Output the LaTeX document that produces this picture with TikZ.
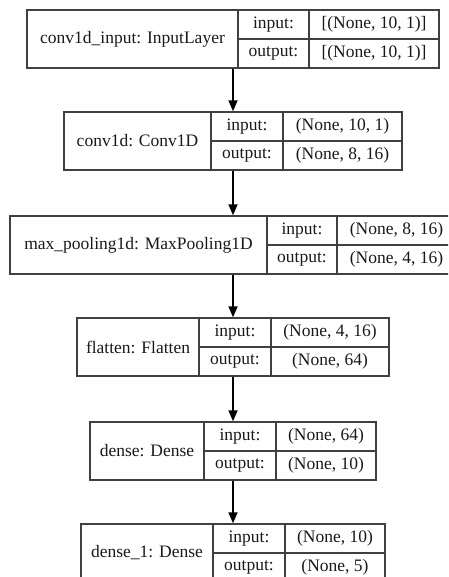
\documentclass[tikz,border=0pt]{standalone}
\usepackage{fontspec}
\setmainfont{Liberation Serif}
\usetikzlibrary{arrows.meta}
\newcommand\layerbox[9]{%
  \node[box, minimum width={#4pt-#3pt}] (#1) at ({(#3+#4)/2},{#2+29}) {};
  \draw[cell] ({#5},{#2}) -- ({#5},{#2+58});
  \draw[cell] ({#6},{#2}) -- ({#6},{#2+58});
  \draw[cell] ({#5},{#2+29}) -- ({#4},{#2+29});
  \node[txt] (#1-lab) at ({(#3+#5)/2},{#2+29}) {#7};
  \node[txt] (#1-ik) at ({(#5+#6)/2},{#2+14.5}) {input:};
  \node[txt] (#1-ok) at ({(#5+#6)/2},{#2+43.5}) {output:};
  \node[txt] (#1-iv) at ({(#6+#4)/2},{#2+14.5}) {#8};
  \node[txt] (#1-ov) at ({(#6+#4)/2},{#2+43.5}) {#9};
}
\begin{document}
\begin{tikzpicture}[x=1pt,y=-1pt,
  box/.style={draw=black!75, line width=1.4pt, minimum height=58pt, inner sep=0pt},
  cell/.style={draw=black!75, line width=1.4pt},
  txt/.style={text=black!90, font=\fontsize{17.5}{20}\selectfont, inner sep=0pt},
  flow/.style={draw=black, line width=1.7pt, -{Triangle[length=11pt,width=9pt]}}]
\useasboundingbox (0,0) rectangle (448,577);
\fill[white] (0,0) rectangle (448,577);
\clip (0,0) rectangle (448,577);
\layerbox{b1}{10}{27}{439}{238}{309}{conv1d\_input: InputLayer}{[(None, 10, 1)]}{[(None, 10, 1)]}
\layerbox{b2}{112}{64}{402}{211}{283}{conv1d: Conv1D}{(None, 10, 1)}{(None, 8, 16)}
\layerbox{b3}{216}{10}{456}{267}{337}{max\_pooling1d: MaxPooling1D}{(None, 8, 16)}{(None, 4, 16)}
\layerbox{b4}{318}{77}{389}{199}{271}{flatten: Flatten}{(None, 4, 16)}{(None, 64)}
\layerbox{b5}{422}{90}{376}{204}{276}{dense: Dense}{(None, 64)}{(None, 10)}
\layerbox{b6}{524}{81}{385}{213}{285}{dense\_1: Dense}{(None, 10)}{(None, 5)}
\draw[flow] (b1.south) -- (b2.north);
\draw[flow] (b2.south) -- (b3.north);
\draw[flow] (b3.south) -- (b4.north);
\draw[flow] (b4.south) -- (b5.north);
\draw[flow] (b5.south) -- (b6.north);
\end{tikzpicture}
\end{document}
